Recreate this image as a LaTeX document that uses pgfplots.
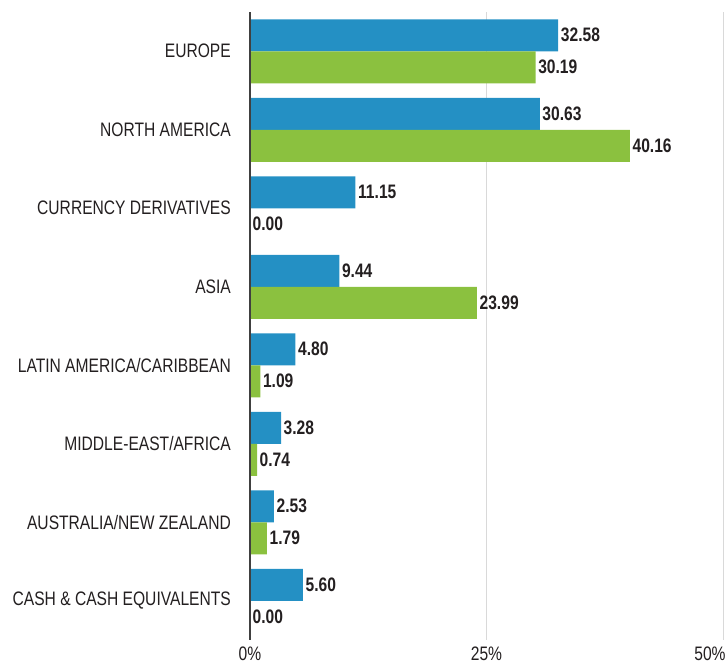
\documentclass[border=0pt]{standalone}
\usepackage{fontspec}
\setmainfont[FakeStretch=0.8]{Liberation Sans}
\usepackage{pgfplots}
\pgfplotsset{compat=1.18}
\definecolor{cblue}{HTML}{2490C4}
\definecolor{cgreen}{HTML}{8BC13F}
\definecolor{ctext}{HTML}{231F20}
\definecolor{caxis}{HTML}{404040}
\begin{document}
\begin{tikzpicture}
\begin{axis}[
  at={(250bp,28bp)}, anchor=south west,
  scale only axis, width=473bp, height=628bp,
  xmin=0, xmax=50, ymin=-0.5, ymax=7.5, y dir=reverse,
  xbar, bar width=32bp,
  axis x line*=bottom, axis y line*=left,
  x axis line style={draw=none},
  y axis line style={draw=none},
  xtick={0,25}, xticklabels={0\%,25\%},
  extra x ticks={50}, extra x tick labels={50\%},
  extra x tick style={xticklabel style={xshift=-13bp}},
  ytick={0,1,2,3,4,5,6,7},
  yticklabels={EUROPE,NORTH AMERICA,CURRENCY DERIVATIVES,ASIA,LATIN AMERICA/CARIBBEAN,MIDDLE-EAST/AFRICA,AUSTRALIA/NEW ZEALAND,CASH \& CASH EQUIVALENTS},
  major tick length=0pt,
  xmajorgrids, grid style={draw=black!15, line width=1pt},
  tick label style={font=\fontsize{19.5bp}{22bp}\selectfont, text=ctext},
  yticklabel style={anchor=east, inner sep=0pt, xshift=-19bp},
  xticklabel style={anchor=north, inner sep=0pt, yshift=-7bp},
  nodes near coords,
  nodes near coords style={font=\bfseries\fontsize{19.5bp}{22bp}\selectfont, text=ctext, anchor=west, inner sep=2.5bp,
    /pgf/number format/.cd, fixed, fixed zerofill, precision=2, assume math mode=true},
  clip=false,
]
\addplot[draw=none, fill=cblue, bar shift=16bp] coordinates {
  (32.58,0) (30.63,1) (11.15,2) (9.44,3) (4.80,4) (3.28,5) (2.53,6) (5.60,7)};
\addplot[draw=none, fill=cgreen, bar shift=-16bp] coordinates {
  (30.19,0) (40.16,1) (0.00,2) (23.99,3) (1.09,4) (0.74,5) (1.79,6) (0.00,7)};
\draw[caxis, line width=1.2pt] (axis cs:0,-0.5) -- (axis cs:0,7.5);
\end{axis}
\pgfresetboundingbox
\useasboundingbox (0,0) rectangle (727bp,668bp);
\end{tikzpicture}
\end{document}
